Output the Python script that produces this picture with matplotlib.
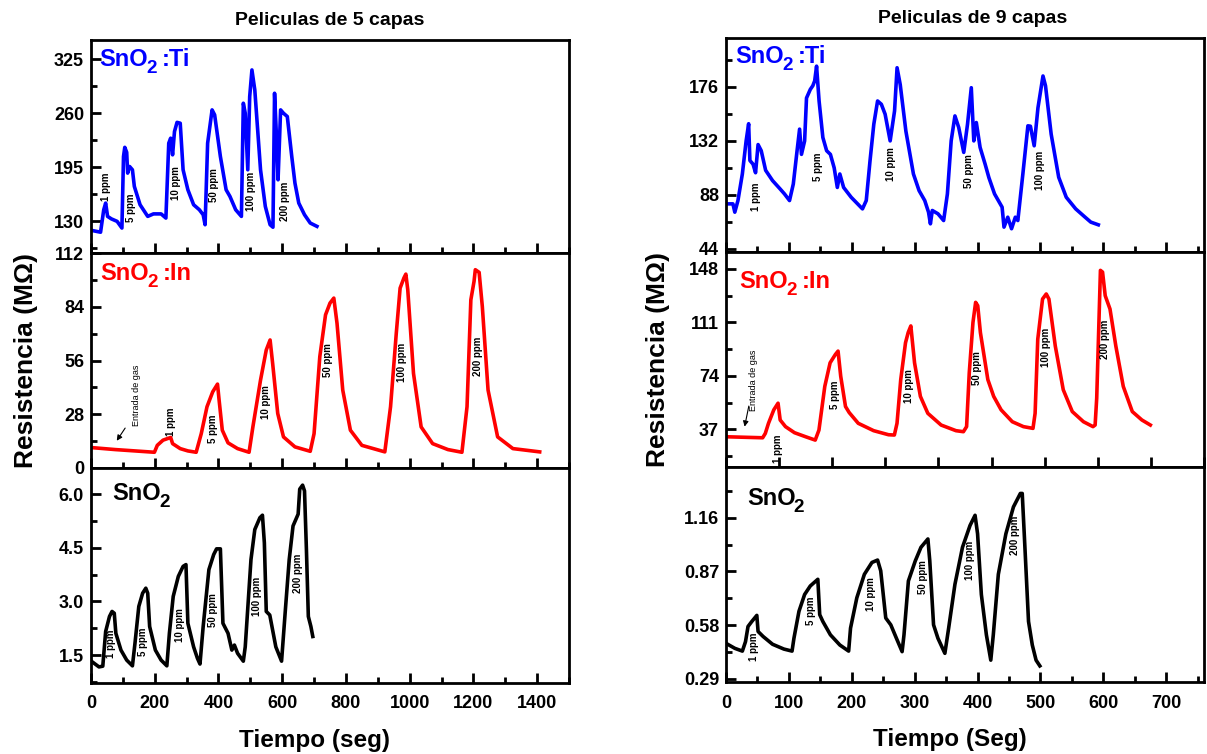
"""Gas response of SnO2 films (5 and 9 layers), redrawn with matplotlib."""

import matplotlib

matplotlib.use("Agg")
import matplotlib.pyplot as plt
from matplotlib.ticker import FormatStrFormatter, MultipleLocator

plt.rcParams["font.family"] = ["Liberation Sans", "DejaVu Sans"]

# ---- 5 capas -------------------------------------------------------------
TI5_T = [4, 30, 40, 46, 52, 64, 82, 97, 102, 106, 112, 115, 121, 130, 136,
         154, 178, 196, 220, 235, 244, 250, 256, 262, 270, 280, 289, 304, 322,
         340, 352, 358, 366, 380, 388, 406, 424, 436, 454, 472, 478, 484, 492,
         498, 505, 514, 532, 547, 562, 571, 576, 582, 587, 595, 604, 616, 630,
         640, 652, 670, 688, 709]
TI5_R = [119, 117, 144, 152, 136, 133, 130, 122, 208, 219, 213, 188, 196, 192,
         172, 150, 136, 139, 139, 134, 224, 230, 210, 238, 249, 248, 192, 168,
         150, 144, 138, 126, 224, 264, 258, 208, 168, 160, 144, 136, 272, 260,
         192, 280, 312, 288, 192, 148, 126, 123, 284, 232, 180, 264, 260, 256,
         208, 176, 152, 138, 128, 124]

IN5_T = [4, 76, 199, 208, 226, 250, 256, 280, 304, 330, 346, 364, 382, 397,
         402, 412, 430, 460, 496, 508, 532, 550, 562, 570, 586, 604, 640, 688,
         700, 718, 736, 750, 762, 772, 790, 814, 850, 922, 940, 958, 970, 982,
         988, 994, 1012, 1036, 1072, 1120, 1164, 1180, 1192, 1202, 1206, 1218,
         1228, 1246, 1276, 1324, 1408]
IN5_R = [10.6, 9.6, 8.2, 11.8, 14.5, 15.9, 12.7, 10.1, 8.9, 8.2, 17.9, 31.9,
         39.7, 43.7, 35.4, 19.7, 13.1, 10.1, 8.2, 21.4, 45.8, 61.5, 66.7, 54.5,
         28.4, 16.2, 11.0, 8.7, 17.9, 58.0, 79.8, 85.9, 88.5, 75.4, 40.6, 19.7,
         11.8, 8.4, 31.9, 70.2, 93.7, 99.0, 101.0, 92.9, 49.3, 21.4, 12.7, 9.6,
         8.2, 31.9, 87.6, 97.2, 103.3, 101.9, 84.1, 40.6, 16.2, 10.1, 8.4]

SN5_T = [4, 25, 37, 46, 58, 66, 73, 78, 94, 112, 130, 138, 150, 162, 172, 178,
         184, 202, 220, 238, 246, 258, 274, 289, 298, 304, 322, 334, 342, 352,
         370, 385, 394, 406, 414, 430, 442, 450, 460, 478, 484, 502, 514, 530,
         538, 544, 550, 561, 580, 598, 610, 622, 634, 650, 655, 664, 670, 676,
         682, 690, 696]
SN5_R = [1.31, 1.17, 1.19, 2.16, 2.58, 2.72, 2.67, 2.11, 1.64, 1.36, 1.20,
         1.83, 2.86, 3.23, 3.37, 3.23, 2.30, 1.64, 1.36, 1.20, 2.11, 3.14, 3.70,
         3.98, 4.03, 2.39, 1.73, 1.41, 1.25, 2.30, 3.89, 4.31, 4.47, 4.47, 2.39,
         2.11, 1.64, 1.78, 1.55, 1.33, 1.73, 4.17, 5.01, 5.34, 5.41, 4.64, 2.72,
         2.62, 1.73, 1.33, 2.77, 4.17, 5.11, 5.44, 6.14, 6.25, 6.09, 4.45, 2.58,
         2.30, 2.02]

# ---- 9 capas -------------------------------------------------------------
TI9_T = [0, 11, 14, 19, 26, 32, 36, 38, 43, 47, 51, 56, 63, 74, 86, 93, 101,
         107, 113, 117, 120, 125, 128, 134, 138, 141, 144, 148, 154, 160, 166,
         172, 177, 181, 187, 199, 217, 223, 229, 235, 241, 247, 253, 261, 268,
         272, 277, 286, 298, 307, 316, 322, 325, 328, 337, 346, 352, 358, 364,
         370, 378, 384, 390, 394, 398, 404, 412, 418, 427, 439, 442, 448, 454,
         460, 464, 472, 480, 484, 490, 496, 504, 508, 517, 529, 541, 556, 571,
         580, 592]
TI9_R = [80.6, 80.6, 73.8, 83.3, 105, 132, 146, 116, 113, 106, 129, 124, 108,
         99.6, 92.8, 88.7, 83.3, 96.8, 124, 141.6, 121, 132, 167, 174, 177, 181,
         193, 164.6, 134.8, 124, 121, 110, 94, 105, 94, 86, 76.5, 83.3, 115.8,
         145.6, 164.6, 161.9, 153.8, 132, 156.5, 191.7, 178, 140, 105, 91.4,
         83.3, 73.8, 64.3, 75.2, 72.5, 67, 88.7, 132, 152.4, 143, 122.6, 145.6,
         175.4, 132, 147, 126.7, 113, 102, 88.7, 77.9, 61.6, 69.7, 60.3, 69.7,
         67, 105, 144.3, 144, 128, 159, 185, 177, 137.5, 102.3, 86, 76.5, 69.7,
         65.7, 63.5]

IN9_T = [0, 69, 74, 80, 90, 98, 102, 112, 129, 150, 168, 175, 186, 196, 206,
         211, 216, 225, 232, 249, 278, 306, 317, 322, 329, 338, 343, 348, 355,
         366, 380, 405, 433, 447, 453, 458, 465, 470, 474, 479, 493, 504, 518,
         539, 560, 578, 582, 587, 596, 603, 608, 620, 635, 652, 673, 691, 695,
         698, 705, 709, 714, 723, 734, 748, 765, 783, 799]
IN9_R = [31.9, 31.2, 34.2, 41.2, 50.5, 55.1, 43.5, 38.9, 34.7, 31.9, 29.6, 36.5,
         66.7, 83.0, 88.8, 91.1, 73.7, 52.8, 48.6, 41.2, 36.1, 33.3, 33.1, 41.2,
         71.4, 96.9, 103.9, 108.5, 83.0, 59.8, 48.1, 40.0, 36.1, 35.4, 38.9,
         76.0, 110.9, 124.8, 122.5, 103.9, 71.4, 59.8, 50.5, 42.3, 38.9, 37.7,
         48.1, 99.3, 127.1, 130.6, 127.1, 94.6, 64.4, 49.3, 42.3, 38.9, 40.0,
         58.6, 146.9, 145.7, 129.4, 120.2, 94.6, 66.7, 49.3, 43.5, 40.0]

SN9_T = [0, 14, 26, 31, 35, 41, 49, 51, 59, 74, 92, 105, 108, 116, 125, 134,
         146, 149, 154, 166, 181, 195, 198, 208, 220, 232, 241, 246, 254, 262,
         271, 280, 283, 290, 301, 310, 321, 324, 330, 337, 348, 354, 364, 376,
         388, 396, 400, 406, 414, 421, 425, 433, 445, 457, 468, 471, 475, 481,
         487, 493, 499]
SN9_R = [0.481, 0.454, 0.439, 0.490, 0.572, 0.599, 0.632, 0.545, 0.518, 0.476,
         0.450, 0.439, 0.508, 0.654, 0.745, 0.791, 0.827, 0.636, 0.599, 0.527,
         0.472, 0.439, 0.563, 0.727, 0.854, 0.918, 0.931, 0.873, 0.618, 0.581,
         0.508, 0.436, 0.527, 0.818, 0.927, 1.000, 1.045, 0.927, 0.581, 0.508,
         0.427, 0.563, 0.800, 1.000, 1.118, 1.173, 1.073, 0.745, 0.527, 0.390,
         0.527, 0.854, 1.073, 1.218, 1.291, 1.291, 1.018, 0.599, 0.472, 0.390,
         0.359]

PPM = ["1 ppm", "5 ppm", "10 ppm", "50 ppm", "100 ppm", "200 ppm"]

# concentration tags: (time, resistance) where each label sits
TI5_TAGS = [(46, 172), (127, 146), (268, 176), (385, 174), (502, 166), (610, 154)]
IN5_TAGS = [(250, 24), (382, 20.5), (550, 34.5), (745, 56), (976, 55), (1214, 58)]
SN5_TAGS = [(64, 1.83), (162, 1.87), (280, 2.34), (384, 2.77), (522, 3.14), (649, 3.8)]
TI9_TAGS = [(47, 86), (146, 111), (262, 113), (386, 107), (499, 108)]
IN9_TAGS = [(97, 23.8), (206, 61), (345, 66.7), (472, 79.5), (603, 93.4), (714, 99.3)]
SN9_TAGS = [(45, 0.463), (135, 0.658), (231, 0.749), (313, 0.84), (388, 0.927), (460, 1.064)]

W, H = 1207, 754
BLUE = "#0000ff"
RED = "#ff0000"


def _px_axes(fig, left, top, right, bottom):
    """Add axes given pixel edges measured from the top-left corner."""
    return fig.add_axes([left / W, (H - bottom) / H, (right - left) / W,
                         (bottom - top) / H])


def _style(ax, xlim, xmaj, xmin, ylim, ymaj, ymin, yfmt, show_x):
    """Frame, ticks and limits shared by every panel."""
    ax.set_xlim(*xlim)
    ax.set_ylim(*ylim)
    for s in ax.spines.values():
        s.set_linewidth(2.0)
    ax.xaxis.set_major_locator(MultipleLocator(xmaj))
    if xmin:
        ax.xaxis.set_minor_locator(MultipleLocator(xmin))
    ax.yaxis.set_major_locator(MultipleLocator(ymaj))
    ax.yaxis.set_minor_locator(MultipleLocator(ymin))
    ax.yaxis.set_major_formatter(FormatStrFormatter(yfmt))
    ax.tick_params(which="both", direction="in", top=False, right=False,
                   width=2.0, labelsize=13)
    ax.tick_params(which="major", length=7)
    ax.tick_params(which="minor", length=4)
    ax.tick_params(axis="x", pad=9, labelbottom=show_x)
    ax.tick_params(axis="y", pad=5)
    for lab in ax.get_xticklabels() + ax.get_yticklabels():
        lab.set_fontweight("bold")


def _tags(ax, tags, size=7):
    for (x, y), text in zip(tags, PPM):
        ax.text(x, y, text, rotation=90, ha="center", va="center",
                fontsize=size, fontweight="bold")


def _name(ax, x, y, tail, color, size=17):
    """Write 'SnO2' plus an optional dopant, with a large dropped subscript."""
    base = ax.text(x, y, "SnO", transform=ax.transAxes, color=color,
                   fontsize=size, fontweight="bold", ha="left", va="baseline")
    sub = ax.annotate("2", xy=(1, 0), xycoords=base, xytext=(-1.5, -1.5),
                      textcoords="offset points", color=color,
                      fontsize=size * 0.8, fontweight="bold", ha="left",
                      va="baseline")
    if tail:
        ax.annotate(tail, xy=(1, 0), xycoords=(sub, base), xytext=(3.5, 0),
                    textcoords="offset points", color=color, fontsize=size,
                    fontweight="bold", ha="left", va="bottom")


def _gas_inlet(ax, tip, tail, label_at):
    ax.annotate("", xy=tip, xytext=tail,
                arrowprops=dict(arrowstyle="-|>", color="black", lw=0.8,
                                mutation_scale=8))
    ax.text(*label_at, "Entrada de gas", rotation=90, ha="center",
            va="center", fontsize=6.5)


def main():
    fig = plt.figure(figsize=(W / 100, H / 100), dpi=100)

    # ---- left column: 5 layers
    a1 = _px_axes(fig, 91, 40, 569, 253)
    a1.plot(TI5_T, TI5_R, color=BLUE, lw=2.6)
    _style(a1, (0, 1500), 200, 100, (92, 348), 65, 32.5, "%d", False)
    _tags(a1, TI5_TAGS)
    _name(a1, 0.018, 0.878, ":Ti", BLUE)
    a1.set_title("Peliculas de 5 capas", fontsize=14, fontweight="bold", pad=11)

    a2 = _px_axes(fig, 91, 253, 569, 468)
    a2.plot(IN5_T, IN5_R, color=RED, lw=2.6)
    _style(a2, (0, 1500), 200, 100, (0, 112), 28, 14, "%d", False)
    _tags(a2, IN5_TAGS)
    _name(a2, 0.02, 0.874, ":In", RED)
    _gas_inlet(a2, (76, 13), (112, 22), (142, 38))
    a2.set_ylabel("Resistencia (M\u03a9)", fontsize=19, fontweight="bold",
                  labelpad=12)

    a3 = _px_axes(fig, 91, 468, 569, 683)
    a3.plot(SN5_T, SN5_R, color="black", lw=2.6)
    _style(a3, (0, 1500), 200, 100, (0.72, 6.73), 1.5, 0.75, "%.1f", True)
    _tags(a3, SN5_TAGS)
    _name(a3, 0.045, 0.851, None, "black")
    a3.set_xlabel("Tiempo (seg)", fontsize=17.5, fontweight="bold")
    a3.xaxis.set_label_coords(0.467, -0.215)

    # ---- right column: 9 layers
    b1 = _px_axes(fig, 726, 38, 1204, 252)
    b1.plot(TI9_T, TI9_R, color=BLUE, lw=2.6)
    _style(b1, (0, 760), 100, 50, (41.3, 216), 44, 22, "%d", False)
    _tags(b1, TI9_TAGS)
    _name(b1, 0.02, 0.883, ":Ti", BLUE)
    b1.set_title("Peliculas de 9 capas", fontsize=14, fontweight="bold",
                 pad=11, x=0.515)

    b2 = _px_axes(fig, 726, 252, 1204, 467)
    b2.plot(IN9_T, IN9_R, color=RED, lw=2.6)
    _style(b2, (0, 900), 100, None, (11, 159.6), 37, 18.5, "%d", False)
    _tags(b2, IN9_TAGS)
    _name(b2, 0.028, 0.833, ":In", RED)
    _gas_inlet(b2, (34, 37), (44, 55), (52, 71))
    b2.set_ylabel("Resistencia (M\u03a9)", fontsize=19, fontweight="bold",
                  labelpad=14)

    b3 = _px_axes(fig, 726, 467, 1204, 682)
    b3.plot(SN9_T, SN9_R, color="black", lw=2.6)
    _style(b3, (0, 760), 100, 50, (0.272, 1.434), 0.29, 0.145, "%.2f", True)
    _tags(b3, SN9_TAGS)
    _name(b3, 0.044, 0.823, None, "black")
    b3.set_xlabel("Tiempo (Seg)", fontsize=17.5, fontweight="bold")
    b3.xaxis.set_label_coords(0.469, -0.215)

    fig.savefig("out.png", dpi=100)
    plt.close(fig)


if __name__ == "__main__":
    main()
